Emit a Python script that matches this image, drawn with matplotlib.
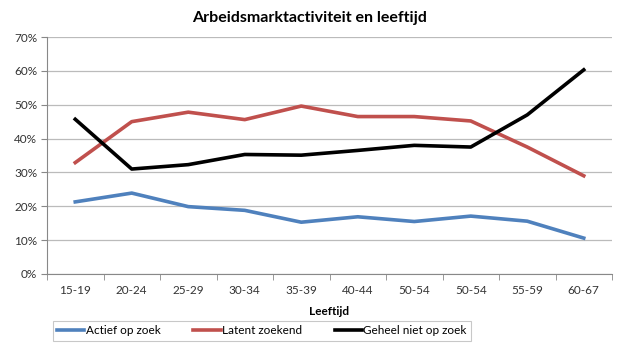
import numpy as np
from matplotlib import pyplot as plt

plt.rcParams['font.family'] = ['Lato', 'DejaVu Sans']

leeftijd = ['15-19', '20-24', '25-29', '30-34', '35-39', '40-44',
            '50-54', '50-54', '55-59', '60-67']
actief = [21.3, 23.9, 19.9, 18.8, 15.3, 16.9, 15.5, 17.1, 15.6, 10.6]
latent = [32.9, 45.0, 47.8, 45.6, 49.6, 46.5, 46.5, 45.2, 37.5, 29.0]
geheel_niet = [45.7, 31.0, 32.3, 35.3, 35.1, 36.5, 38.0, 37.5, 47.0, 60.3]

fig = plt.figure(figsize=(6.2, 3.49), dpi=100)
ax = fig.add_axes([47 / 620, 1 - 274 / 349, 565 / 620, 237 / 349])

x = np.arange(len(leeftijd))
ax.plot(x, actief, color='#4F81BD', lw=2.6, label='Actief op zoek')
ax.plot(x, latent, color='#C0504D', lw=2.6, label='Latent zoekend')
ax.plot(x, geheel_niet, color='black', lw=2.6, label='Geheel niet op zoek')

ax.set_xlim(-0.5, len(leeftijd) - 0.5)
ax.set_ylim(0, 70)
ax.set_yticks(range(0, 71, 10))
ax.set_yticklabels([f'{v}%' for v in range(0, 71, 10)], fontsize=8.5, color='#333333')
ax.set_xticks(x)
ax.set_xticklabels(leeftijd, fontsize=8.5, color='#333333')
ax.set_xticks(np.arange(-0.5, len(leeftijd)), minor=True)
ax.tick_params(axis='x', which='major', length=0, pad=8)
ax.tick_params(axis='x', which='minor', length=4, color='#888888', direction='out')
ax.tick_params(axis='y', length=4, color='#888888', pad=3)

ax.grid(axis='y', color='#BBBBBB', lw=0.9)
ax.set_axisbelow(True)
for s in ['top', 'right']:
    ax.spines[s].set_visible(False)
ax.spines['left'].set_color('#888888')
ax.spines['bottom'].set_color('#888888')

ax.set_xlabel('Leeftijd', fontsize=8.5, fontweight='bold', labelpad=7)
fig.text(0.5, 1 - 18 / 349, 'Arbeidsmarktactiviteit en leeftijd', ha='center', va='center',
         fontsize=11.5, fontweight='bold')

leg = ax.legend(loc='center', bbox_to_anchor=(262 / 620, 1 - 331 / 349),
                bbox_transform=fig.transFigure, ncol=3, fontsize=8.5, frameon=True,
                fancybox=False, edgecolor='#BBBBBB', handlelength=2.3, handletextpad=0.1,
                columnspacing=2.8, borderpad=0.4, borderaxespad=0)
leg.get_frame().set_linewidth(0.8)

fig.savefig('out.png', dpi=100)
